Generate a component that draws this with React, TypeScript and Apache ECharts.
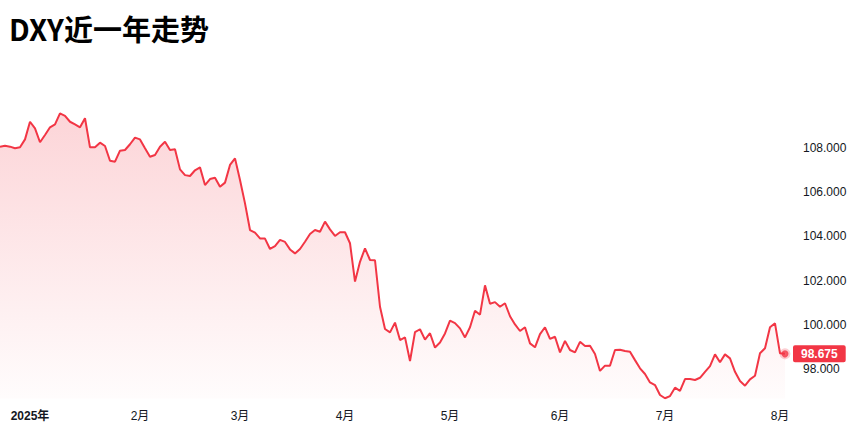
import React, { useEffect, useRef } from "react";
import * as echarts from "echarts";

const decDates = ["2024-12-23", "2024-12-24", "2024-12-26", "2024-12-27", "2024-12-30", "2024-12-31"];
const decValues = [108.07, 108.11, 108.07, 108.0, 108.04, 108.4];

const janDates = ["2025-01-02", "2025-01-03", "2025-01-06", "2025-01-07", "2025-01-08", "2025-01-09", "2025-01-10", "2025-01-13", "2025-01-14", "2025-01-15", "2025-01-16", "2025-01-17", "2025-01-20", "2025-01-21", "2025-01-22", "2025-01-23", "2025-01-24", "2025-01-27", "2025-01-28", "2025-01-29", "2025-01-30", "2025-01-31"];
const janValues = [109.2, 108.9, 108.27, 108.6, 108.95, 109.08, 109.58, 109.47, 109.2, 109.08, 108.95, 109.36, 108.04, 108.04, 108.25, 108.1, 107.43, 107.39, 107.89, 107.92, 108.18, 108.48];

const febDates = ["2025-02-03", "2025-02-04", "2025-02-05", "2025-02-06", "2025-02-07", "2025-02-10", "2025-02-11", "2025-02-12", "2025-02-13", "2025-02-14", "2025-02-17", "2025-02-18", "2025-02-19", "2025-02-20", "2025-02-21", "2025-02-24", "2025-02-25", "2025-02-26", "2025-02-27", "2025-02-28"];
const febValues = [108.4, 108.0, 107.61, 107.69, 108.07, 108.29, 107.92, 107.95, 107.04, 106.78, 106.74, 107.0, 107.13, 106.33, 106.6, 106.66, 106.25, 106.44, 107.24, 107.54];

const marDates = ["2025-03-03", "2025-03-04", "2025-03-05", "2025-03-06", "2025-03-07", "2025-03-10", "2025-03-11", "2025-03-12", "2025-03-13", "2025-03-14", "2025-03-17", "2025-03-18", "2025-03-19", "2025-03-20", "2025-03-21", "2025-03-24", "2025-03-25", "2025-03-26", "2025-03-27", "2025-03-28", "2025-03-31"];
const marValues = [106.56, 105.5, 104.29, 104.17, 103.91, 103.9, 103.43, 103.56, 103.84, 103.75, 103.41, 103.23, 103.43, 103.76, 104.11, 104.29, 104.21, 104.67, 104.32, 104.02, 104.19];

const aprDates = ["2025-04-01", "2025-04-02", "2025-04-03", "2025-04-04", "2025-04-07", "2025-04-08", "2025-04-09", "2025-04-10", "2025-04-11", "2025-04-14", "2025-04-15", "2025-04-16", "2025-04-17", "2025-04-21", "2025-04-22", "2025-04-23", "2025-04-24", "2025-04-25", "2025-04-28", "2025-04-29", "2025-04-30"];
const aprValues = [104.19, 103.69, 101.95, 102.85, 103.46, 102.93, 102.92, 100.81, 99.8, 99.65, 100.09, 99.3, 99.42, 98.35, 99.66, 99.79, 99.32, 99.61, 98.96, 99.19, 99.6];

const mayDates = ["2025-05-01", "2025-05-02", "2025-05-05", "2025-05-06", "2025-05-07", "2025-05-08", "2025-05-09", "2025-05-12", "2025-05-13", "2025-05-14", "2025-05-15", "2025-05-16", "2025-05-19", "2025-05-20", "2025-05-21", "2025-05-22", "2025-05-23", "2025-05-26", "2025-05-27", "2025-05-28", "2025-05-29", "2025-05-30"];
const mayValues = [100.18, 100.07, 99.83, 99.42, 99.88, 100.63, 100.45, 101.78, 100.95, 101.02, 100.81, 100.97, 100.38, 100.01, 99.71, 99.88, 99.15, 98.97, 99.57, 99.88, 99.35, 99.45];

const junDates = ["2025-06-02", "2025-06-03", "2025-06-04", "2025-06-05", "2025-06-06", "2025-06-09", "2025-06-10", "2025-06-11", "2025-06-12", "2025-06-13", "2025-06-16", "2025-06-17", "2025-06-18", "2025-06-19", "2025-06-20", "2025-06-23", "2025-06-24", "2025-06-25", "2025-06-26", "2025-06-27", "2025-06-30"];
const junValues = [98.74, 99.26, 98.85, 98.74, 99.22, 99.03, 99.04, 98.67, 97.9, 98.14, 98.14, 98.85, 98.86, 98.8, 98.77, 98.39, 98.02, 97.76, 97.38, 97.26, 96.81];

const julDates = ["2025-07-01", "2025-07-02", "2025-07-03", "2025-07-04", "2025-07-07", "2025-07-08", "2025-07-09", "2025-07-10", "2025-07-11", "2025-07-14", "2025-07-15", "2025-07-16", "2025-07-17", "2025-07-18", "2025-07-21", "2025-07-22", "2025-07-23", "2025-07-24", "2025-07-25", "2025-07-28", "2025-07-29", "2025-07-30", "2025-07-31"];
const julValues = [96.66, 96.76, 97.14, 97.0, 97.53, 97.53, 97.49, 97.59, 97.86, 98.12, 98.65, 98.29, 98.65, 98.47, 97.86, 97.44, 97.23, 97.52, 97.68, 98.7, 98.93, 99.88, 100.06];

const augDates = ["2025-08-01", "2025-08-04"];
const augValues = [98.7, 98.675];

const yTickValues = [98, 100, 102, 104, 106, 108];

const dates = [...decDates, ...janDates, ...febDates, ...marDates, ...aprDates, ...mayDates, ...junDates, ...julDates, ...augDates];
const values = [...decValues, ...janValues, ...febValues, ...marValues, ...aprValues, ...mayValues, ...junValues, ...julValues, ...augValues];

const RED = "#f23645";

function isMonthStart(i: number): boolean {
  if (i === 0) return false;
  const m = dates[i].slice(0, 7);
  const pm = dates[i - 1].slice(0, 7);
  return m !== pm;
}

export default function App() {
  const ref = useRef<HTMLDivElement>(null);
  useEffect(() => {
    if (!ref.current) return;
    const chart = echarts.init(ref.current, undefined, { renderer: "svg" });
    const last = values.length - 1;
    chart.setOption({
      animation: false,
      backgroundColor: "#ffffff",
      title: {
        text: "DXY近一年走势",
        left: 4,
        top: 8,
        textStyle: {
          fontFamily: '"Noto Sans CJK SC", sans-serif',
          fontWeight: "bold",
          fontSize: 29,
          color: "#000000",
        },
      },
      grid: { left: 0, right: 78, top: 60, bottom: 37.5, containLabel: false },
      xAxis: {
        type: "category",
        data: dates,
        boundaryGap: false,
        axisLine: { show: false },
        axisTick: { show: false },
        splitLine: { show: false },
        axisLabel: {
          interval: (i: number) => isMonthStart(i),
          margin: 11,
          fontSize: 12,
          color: "#131722",
          fontFamily: 'Arial, "Noto Sans CJK SC", sans-serif',
          formatter: (v: string) => {
            const y = v.slice(0, 4);
            const m = parseInt(v.slice(5, 7), 10);
            if (m === 1) return "{b|" + y + "年}";
            return m + "月";
          },
          rich: {
            b: {
              fontWeight: "bold",
              fontSize: 12,
              color: "#131722",
              fontFamily: 'Arial, "Noto Sans CJK SC", sans-serif',
            },
          },
        },
      },
      yAxis: {
        type: "value",
        position: "right",
        min: 96.65,
        max: 112,
        axisLine: { show: false },
        axisTick: { show: false },
        splitLine: { show: false },
        axisLabel: {
          customValues: yTickValues,
          margin: 18,
          fontSize: 12,
          color: "#131722",
          fontFamily: "Arial, sans-serif",
          formatter: (v: number) => v.toFixed(3),
        },
      },
      series: [
        {
          type: "line",
          data: values,
          showSymbol: false,
          symbol: "none",
          lineStyle: { color: RED, width: 2 },
          itemStyle: { color: RED },
          areaStyle: {
            origin: "start",
            color: new echarts.graphic.LinearGradient(0, 0, 0, 1, [
              { offset: 0, color: "rgba(242,54,69,0.3)" },
              { offset: 1, color: "rgba(242,54,69,0.02)" },
            ]),
          },
          endLabel: {
            show: true,
            distance: 8,
            formatter: (p: any) => Number(p.value).toFixed(3),
            backgroundColor: RED,
            color: "#ffffff",
            fontWeight: "bold",
            fontSize: 12,
            fontFamily: "Arial, sans-serif",
            lineHeight: 13,
            padding: [2, 8, 2, 8],
            borderRadius: 2,
          },
          z: 2,
        },
        {
          type: "scatter",
          data: [[last, values[last]]],
          symbol: "circle",
          symbolSize: 7,
          itemStyle: {
            color: RED,
            borderColor: "rgba(242,54,69,0.3)",
            borderWidth: 4,
          },
          z: 3,
        },
      ],
    });
    return () => chart.dispose();
  }, []);
  return (
    <div
      ref={ref}
      style={{ position: "fixed", left: 0, top: 0, width: 863, height: 436, background: "#fff" }}
    />
  );
}
